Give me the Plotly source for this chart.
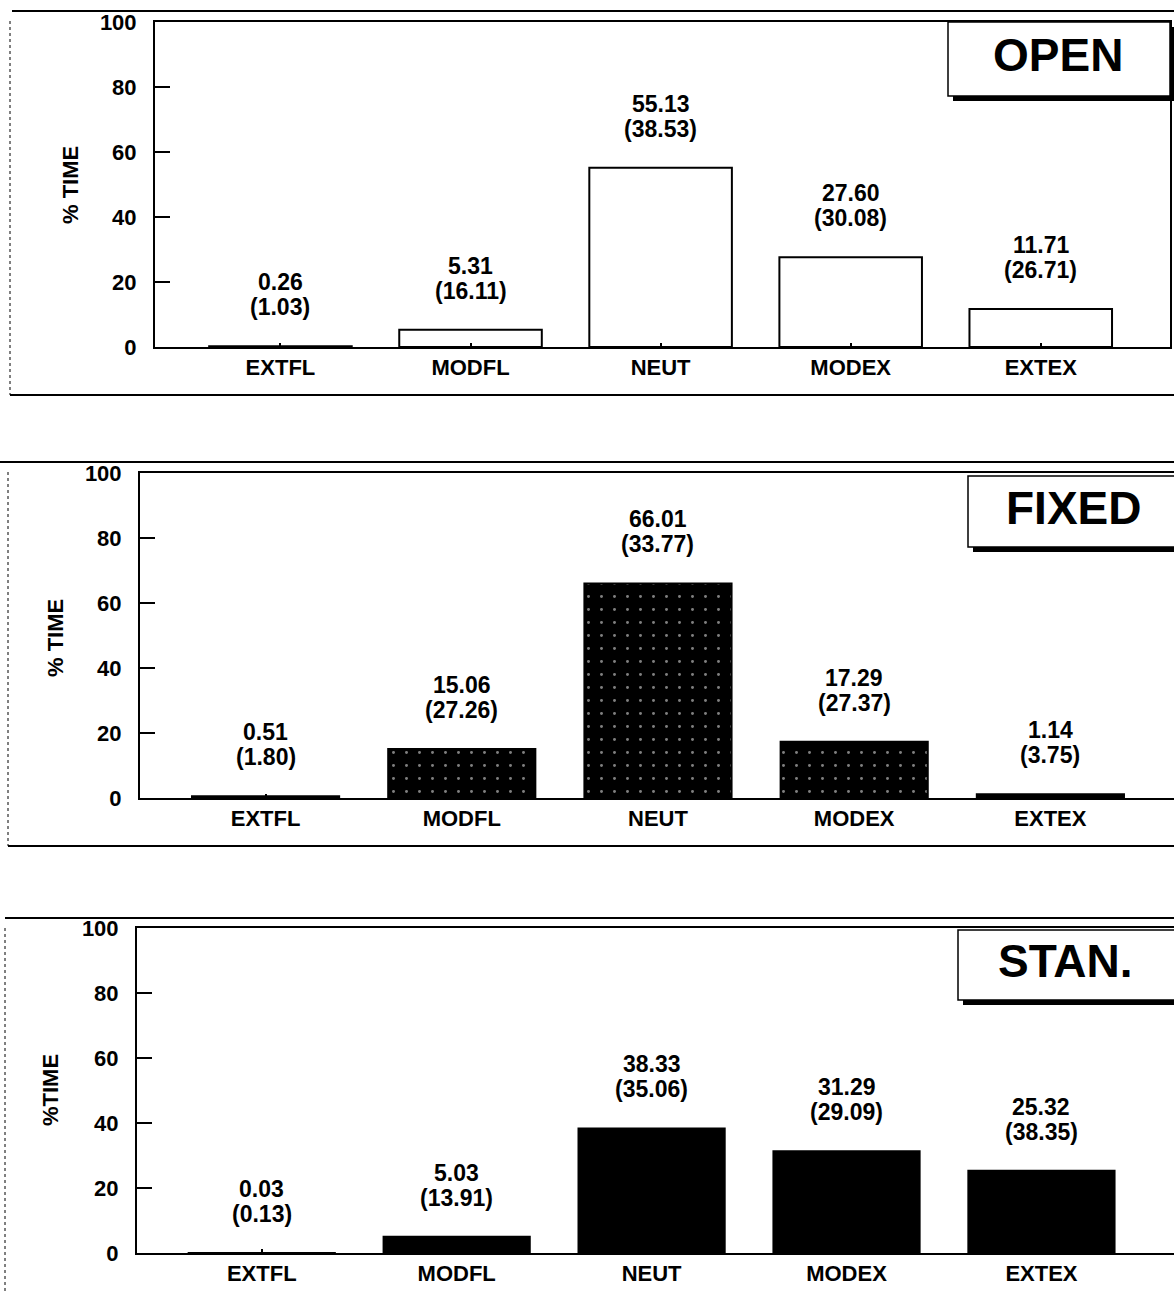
import plotly.graph_objects as go

categories = ["EXTFL", "MODFL", "NEUT", "MODEX", "EXTEX"]
panel_names = ["OPEN", "FIXED", "STAN."]
open_vals = [0.26, 5.31, 55.13, 27.60, 11.71]
open_sd = [1.03, 16.11, 38.53, 30.08, 26.71]
fixed_vals = [0.51, 15.06, 66.01, 17.29, 1.14]
fixed_sd = [1.80, 27.26, 33.77, 27.37, 3.75]
stan_vals = [0.03, 5.03, 38.33, 31.29, 25.32]
stan_sd = [0.13, 13.91, 35.06, 29.09, 38.35]
y_titles = ["% TIME", "% TIME", "%TIME"]
y_ticks = [0, 20, 40, 60, 80, 100]

W, H = 1174, 1294
FONT = "Liberation Sans, Arial, sans-serif"


def px(x):
    return x / W


def py(y):
    return 1 - y / H


panels = [
    dict(vals=open_vals, sd=open_sd, left=155, right=1170, top=22, bottom=347,
         xr=[-0.66, 4.68], style="open", ytx=70, yty=185,
         box=(948, 22, 1170, 96), boxtext=(1058, 55),
         frame=dict(top=11, x0=12, left=10, bottom=395)),
    dict(vals=fixed_vals, sd=fixed_sd, left=140, right=1174, top=473, bottom=798,
         xr=[-0.64, 4.63], style="fixed", ytx=55, yty=638,
         box=(968, 476, 1176, 547), boxtext=(1073, 508),
         frame=dict(top=462, x0=0, left=8, bottom=846)),
    dict(vals=stan_vals, sd=stan_sd, left=137, right=1174, top=928, bottom=1253,
         xr=[-0.64, 4.68], style="stan", ytx=50, yty=1090,
         box=(958, 930, 1176, 1000), boxtext=(1065, 961),
         frame=dict(top=918, x0=5, left=5, bottom=None)),
]

fig = go.Figure()
shapes = []
annotations = []

for i, p in enumerate(panels):
    n = "" if i == 0 else str(i + 1)
    xa, ya = "x" + n, "y" + n
    if p["style"] == "open":
        marker = dict(color="white", line=dict(color="black", width=2))
    elif p["style"] == "fixed":
        marker = dict(color="black", line=dict(color="black", width=2),
                      pattern=dict(shape=".", fgcolor="white", bgcolor="black",
                                   size=13, solidity=0.04))
    else:
        marker = dict(color="black", line=dict(color="black", width=2))
    fig.add_trace(go.Bar(x=categories, y=p["vals"], xaxis=xa, yaxis=ya,
                         width=0.75, marker=marker, hoverinfo="skip"))

    axis_common = dict(showgrid=False, zeroline=False, linecolor="black",
                       linewidth=2, mirror=True, ticks="inside", tickcolor="black",
                       tickwidth=2, automargin=False,
                       tickfont=dict(family=FONT, size=22, color="black", weight=700))
    fig.layout["xaxis" + n] = dict(
        axis_common, domain=[px(p["left"]), min(1.0, px(p["right"]))],
        anchor=ya, type="category", range=p["xr"], ticklen=4,
        categoryorder="array", categoryarray=categories)
    fig.layout["yaxis" + n] = dict(
        axis_common, domain=[py(p["bottom"]), py(p["top"])], anchor=xa,
        range=[0, 100], tickvals=y_ticks, ticklen=15, ticklabelstandoff=12)

    for j, c in enumerate(categories):
        annotations.append(dict(xref=xa, yref=ya, x=c, y=p["vals"][j],
                                text=f"{p['vals'][j]:.2f}", showarrow=False,
                                yanchor="middle", yshift=64,
                                font=dict(family=FONT, size=23, color="black", weight=700)))
        annotations.append(dict(xref=xa, yref=ya, x=c, y=p["vals"][j],
                                text=f"({p['sd'][j]:.2f})", showarrow=False,
                                yanchor="middle", yshift=39,
                                font=dict(family=FONT, size=23, color="black", weight=700)))

    # y title
    annotations.append(dict(xref="paper", yref="paper", x=px(p["ytx"]),
                            y=py(p["yty"]),
                            text=y_titles[i], textangle=-90, showarrow=False,
                            xanchor="center", yanchor="middle",
                            font=dict(family=FONT, size=22, color="black", weight=700)))

    # legend box with shadow
    bx0, by0, bx1, by1 = p["box"]
    shapes.append(dict(type="rect", xref="paper", yref="paper",
                       x0=px(bx0 + 5), x1=px(bx1 + 5), y0=py(by1 + 5), y1=py(by0 + 5),
                       fillcolor="black", line=dict(width=0)))
    shapes.append(dict(type="rect", xref="paper", yref="paper",
                       x0=px(bx0), x1=px(bx1), y0=py(by1), y1=py(by0),
                       fillcolor="white", line=dict(color="black", width=1.5)))
    annotations.append(dict(xref="paper", yref="paper", x=px(p["boxtext"][0]),
                            y=py(p["boxtext"][1]), text=panel_names[i], showarrow=False,
                            xanchor="center", yanchor="middle",
                            font=dict(family=FONT, size=46, color="black", weight=700)))

    # outer frame
    f = p["frame"]
    shapes.append(dict(type="line", xref="paper", yref="paper",
                       x0=px(f["x0"]), x1=1, y0=py(f["top"]), y1=py(f["top"]),
                       line=dict(color="black", width=2)))
    fb = f["bottom"] if f["bottom"] is not None else H
    shapes.append(dict(type="line", xref="paper", yref="paper",
                       x0=px(f["left"]), x1=px(f["left"]), y0=py(f["top"] + 10), y1=py(fb),
                       line=dict(color="black", width=1, dash="dot")))
    if f["bottom"] is not None:
        shapes.append(dict(type="line", xref="paper", yref="paper",
                           x0=px(f["left"]), x1=1, y0=py(f["bottom"]), y1=py(f["bottom"]),
                           line=dict(color="black", width=2)))

fig.update_layout(width=W, height=H, margin=dict(l=0, r=0, t=0, b=0, autoexpand=False),
                  paper_bgcolor="white", plot_bgcolor="white", showlegend=False,
                  shapes=shapes, annotations=annotations, bargap=0.25)

fig.write_html("out.html", config={"displayModeBar": False},
               post_script="document.body.style.margin='0';"
                           "document.body.style.overflow='hidden';")
